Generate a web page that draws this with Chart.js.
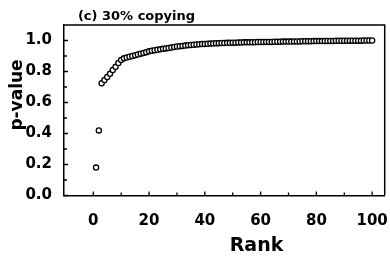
<!DOCTYPE html>
<html>
<head>
<meta charset="utf-8">
<script src="https://cdn.jsdelivr.net/npm/chart.js@4/dist/chart.umd.min.js"></script>
<style>
  html, body { margin: 0; padding: 0; background: #fff; }
  #wrap { width: 390px; height: 259px; position: relative; }
</style>
</head>
<body>
<div id="wrap"><canvas id="c" width="390" height="259"></canvas></div>
<script>
const titleText = "(c) 30% copying";
const xAxisTitle = "Rank";
const yAxisTitle = "p-value";

const ranks = [1,2,3,4,5,6,7,8,9,10,11,12,13,14,15,16,17,18,19,20,
  21,22,23,24,25,26,27,28,29,30,31,32,33,34,35,36,37,38,39,40,
  41,42,43,44,45,46,47,48,49,50,51,52,53,54,55,56,57,58,59,60,
  61,62,63,64,65,66,67,68,69,70,71,72,73,74,75,76,77,78,79,80,
  81,82,83,84,85,86,87,88,89,90,91,92,93,94,95,96,97,98,99,100];

const pValues = [0.18,0.42,0.725,0.745,0.765,0.785,0.81,0.83,0.855,0.875,
  0.885,0.89,0.895,0.90,0.905,0.91,0.915,0.92,0.925,0.93,
  0.934,0.937,0.94,0.943,0.946,0.949,0.952,0.955,0.958,0.961,
  0.963,0.965,0.967,0.969,0.971,0.973,0.975,0.976,0.977,0.978,
  0.979,0.98,0.981,0.982,0.983,0.984,0.984,0.985,0.985,0.986,
  0.986,0.987,0.987,0.988,0.988,0.988,0.989,0.989,0.99,0.99,
  0.99,0.991,0.991,0.991,0.992,0.992,0.992,0.993,0.993,0.993,
  0.993,0.994,0.994,0.994,0.995,0.995,0.995,0.995,0.996,0.996,
  0.996,0.996,0.997,0.997,0.997,0.997,0.998,0.998,0.998,0.998,
  0.998,0.999,0.999,0.999,0.999,0.999,1.0,1.0,1.0,1.0];

const xMajorTicks = [0,20,40,60,80,100];
const xMinorTicks = [10,30,50,70,90];
const yMajorTicks = [0.0,0.2,0.4,0.6,0.8,1.0];
const yMinorTicks = [0.1,0.3,0.5,0.7,0.9];

const FONT = "'DejaVu Sans', sans-serif";

const framePlugin = {
  id: 'frame',
  afterDraw(chart) {
    const ctx = chart.ctx;
    const a = chart.chartArea;
    const xs = chart.scales.x, ys = chart.scales.y;
    ctx.save();
    ctx.strokeStyle = '#000';
    ctx.lineWidth = 1.5;
    ctx.beginPath();
    ctx.moveTo(a.left, a.top);
    ctx.lineTo(a.right, a.top);
    ctx.lineTo(a.right, a.bottom);
    ctx.stroke();
    ctx.lineWidth = 1.3;
    ctx.beginPath();
    xMajorTicks.forEach(v => { const p = xs.getPixelForValue(v); ctx.moveTo(p, a.bottom); ctx.lineTo(p, a.bottom - 4); });
    xMinorTicks.forEach(v => { const p = xs.getPixelForValue(v); ctx.moveTo(p, a.bottom); ctx.lineTo(p, a.bottom - 3); });
    yMajorTicks.forEach(v => { const p = ys.getPixelForValue(v); ctx.moveTo(a.left, p); ctx.lineTo(a.left + 4, p); });
    yMinorTicks.forEach(v => { const p = ys.getPixelForValue(v); ctx.moveTo(a.left, p); ctx.lineTo(a.left + 3, p); });
    ctx.stroke();

    ctx.fillStyle = '#000';
    ctx.textAlign = 'center';
    ctx.textBaseline = 'alphabetic';
    ctx.font = "bold 13px " + FONT;
    ctx.fillText(titleText, 136.5, 19.5);
    ctx.font = "bold 19px " + FONT;
    ctx.fillText(xAxisTitle, 256.5, 251);
    ctx.translate(22, 95);
    ctx.rotate(-Math.PI / 2);
    ctx.font = "bold 17px " + FONT;
    ctx.fillText(yAxisTitle, 0, 0);
    ctx.restore();
  }
};

new Chart(document.getElementById('c'), {
  type: 'scatter',
  data: {
    datasets: [{
      data: ranks.map((r, i) => ({ x: r, y: pValues[i] })),
      pointStyle: 'circle',
      pointRadius: 2.6,
      pointBorderWidth: 1.3,
      pointBorderColor: '#000',
      pointBackgroundColor: '#fff',
      showLine: false
    }]
  },
  options: {
    responsive: false,
    animation: false,
    devicePixelRatio: 1,
    layout: { padding: { top: 25, right: 2, left: 0, bottom: 0 } },
    plugins: { legend: { display: false }, tooltip: { enabled: false }, title: { display: false } },
    scales: {
      x: {
        type: 'linear',
        min: -10.5,
        max: 104.5,
        grid: { display: false, drawTicks: false },
        border: { display: true, color: '#000', width: 1.5 },
        afterBuildTicks: (s) => { s.ticks = xMajorTicks.map(v => ({ value: v })); },
        afterFit: (s) => { s.height = 63.5; s.paddingLeft = 0; s.paddingRight = 0; },
        ticks: {
          color: '#000',
          padding: 17,
          maxRotation: 0,
          autoSkip: false,
          font: { family: FONT, size: 15, weight: 'bold' },
          callback: (v) => String(v)
        }
      },
      y: {
        type: 'linear',
        min: 0,
        max: 1.1,
        grid: { display: false, drawTicks: false },
        border: { display: true, color: '#000', width: 1.5 },
        afterBuildTicks: (s) => { s.ticks = yMajorTicks.map(v => ({ value: v })); },
        afterFit: (s) => { s.width = 64; s.paddingTop = 0; s.paddingBottom = 0; },
        ticks: {
          color: '#000',
          padding: 12,
          autoSkip: false,
          font: { family: FONT, size: 15, weight: 'bold' },
          callback: (v) => Number(v).toFixed(1)
        }
      }
    }
  },
  plugins: [framePlugin]
});
</script>
</body>
</html>
